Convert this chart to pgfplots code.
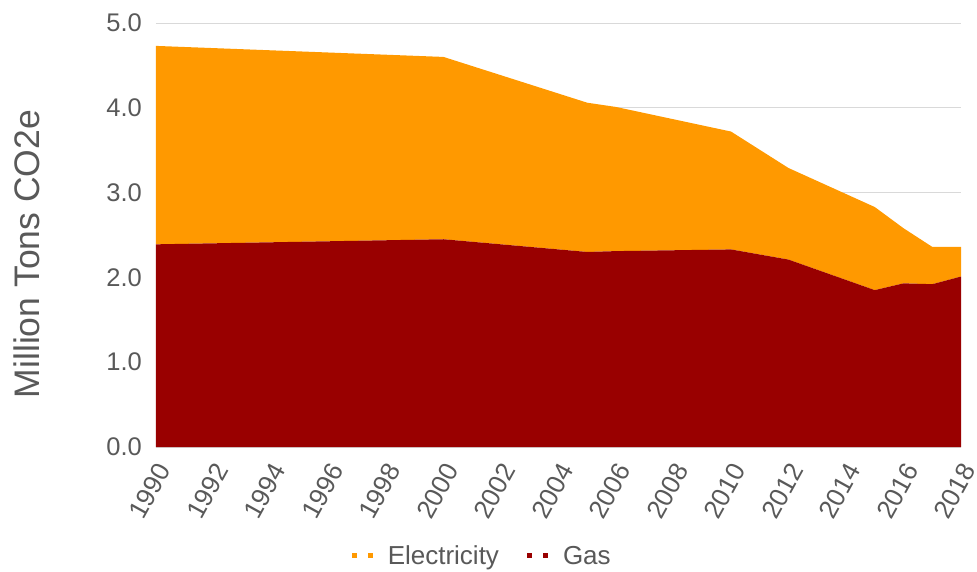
\documentclass[border=0pt]{standalone}
\usepackage{fontspec}
\setmainfont{Liberation Sans}
\usepackage{pgfplots}
\pgfplotsset{compat=1.18}
\definecolor{elec}{HTML}{FF9900}
\definecolor{gas}{HTML}{990000}
\definecolor{txt}{HTML}{595959}
\definecolor{gridc}{HTML}{D9D9D9}
\begin{document}
\begin{tikzpicture}
\begin{axis}[
  scale only axis, width=805pt, height=424pt,
  xmin=1990, xmax=2018, ymin=0, ymax=5,
  stack plots=y,
  xtick={1990,1992,...,2018},
  ytick={0,1,...,5},
  major tick length=0pt,
  axis x line*=bottom, axis y line*=left,
  y axis line style={draw=none},
  x axis line style={gridc, line width=1pt},
  ymajorgrids, grid style={gridc, line width=1pt},
  /pgf/number format/assume math mode=true,
  xticklabel shift=14pt,
  x tick label style={/pgf/number format/1000 sep={}, rotate=61, anchor=north east, inner sep=0pt, font=\fontsize{26}{30}\selectfont, text=txt},
  y tick label style={/pgf/number format/.cd, fixed, fixed zerofill, precision=1, /tikz/.cd, font=\fontsize{25.5}{30}\selectfont, text=txt, anchor=east, inner sep=0pt, xshift=-14pt},
  ylabel={Million Tons CO2e},
  ylabel style={at={(axis description cs:-0.160,0.455)}, anchor=center, font=\fontsize{35.5}{40}\selectfont, text=txt},
  legend style={at={(0.404,-0.257)}, anchor=center, draw=none, legend columns=2,
    font=\fontsize{26}{30}\selectfont, text=txt, nodes={inner sep=0pt},
    /tikz/every even column/.append style={column sep=28pt}},
  legend cell align=left,
  reverse legend,
]
\addplot[draw=none, fill=gas, area legend,
  legend image code/.code={\fill[gas] (0pt,-2.5pt) rectangle (5pt,2.5pt); \fill[gas] (16pt,-2.5pt) rectangle (21pt,2.5pt); \path (0pt,0pt) (36pt,0pt);}]
  coordinates {(1990,2.39) (2000,2.45) (2005,2.30) (2006,2.31) (2010,2.33) (2012,2.21) (2015,1.85) (2016,1.93) (2017,1.92) (2018,2.01)} \closedcycle;
\addplot[draw=none, fill=elec, area legend,
  legend image code/.code={\fill[elec] (0pt,-2.5pt) rectangle (5pt,2.5pt); \fill[elec] (16pt,-2.5pt) rectangle (21pt,2.5pt); \path (0pt,0pt) (36pt,0pt);}]
  coordinates {(1990,2.34) (2000,2.15) (2005,1.76) (2006,1.70) (2010,1.39) (2012,1.08) (2015,0.98) (2016,0.65) (2017,0.44) (2018,0.35)} \closedcycle;
\legend{Gas, Electricity}
\end{axis}
\pgfresetboundingbox
\path ([shift={(-156pt,-124pt)}]current axis.south west) rectangle ++(977pt,571pt);
\end{tikzpicture}
\end{document}
